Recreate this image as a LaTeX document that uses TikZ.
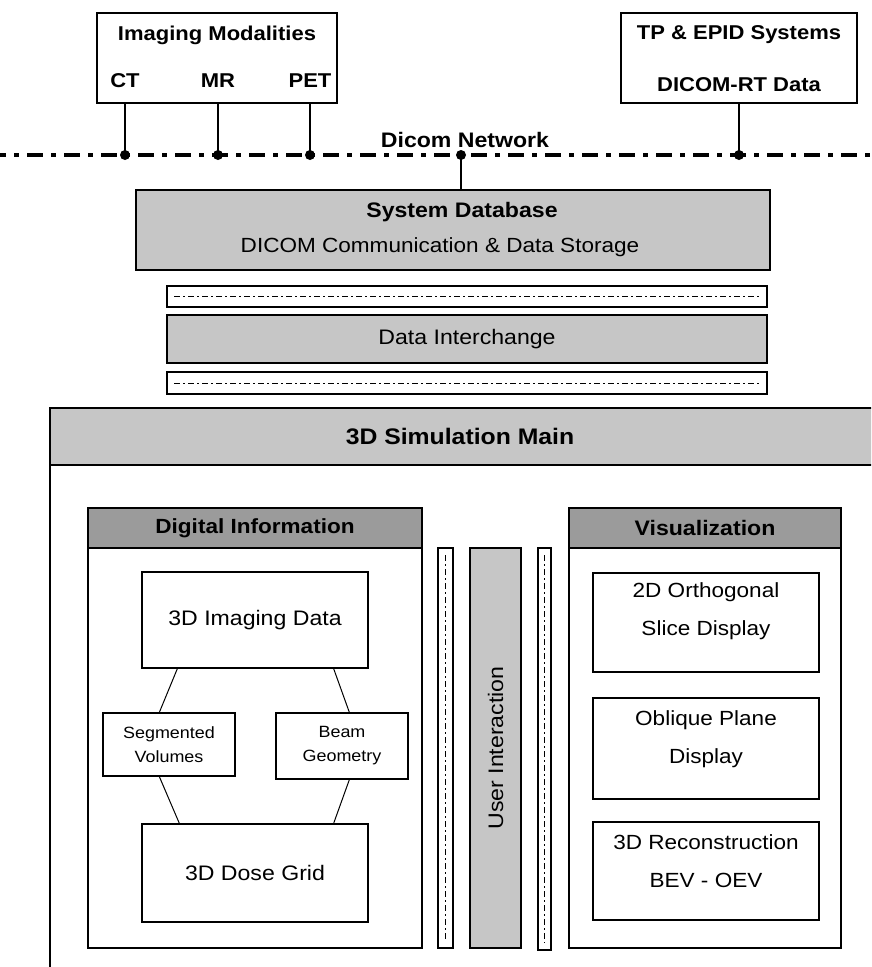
\documentclass[tikz,border=0pt]{standalone}
\usepackage{fontspec}
\setmainfont[FakeStretch=1.1]{Liberation Sans}
\usetikzlibrary{positioning}
\definecolor{lightgr}{RGB}{198,198,198}
\definecolor{darkgr}{RGB}{155,155,155}
\tikzset{
  box/.style={draw, line width=1.3pt, inner sep=0pt, align=center, font=\fontsize{21}{24}\selectfont},
  graybox/.style={box, fill=lightgr},
  headbox/.style={box, fill=darkgr, font=\bfseries\fontsize{20.5}{24}\selectfont},
  bold/.style={inner sep=0pt, font=\bfseries\fontsize{20}{24}\selectfont},
  plain/.style={inner sep=0pt, align=center, font=\fontsize{20.5}{38}\selectfont},
  stem/.style={line width=2.5pt},
  dot/.style={circle, fill, inner sep=0pt, minimum size=10pt},
  netline/.style={line width=3.5pt, dash pattern=on 16pt off 8pt on 5pt off 8pt},
  sepline/.style={line width=1pt, dash pattern=on 6pt off 3pt on 2pt off 3pt},
  link/.style={line width=1pt}
}
\begin{document}
\begin{tikzpicture}[x=1pt,y=-1pt]
\clip (0,0) rectangle (871,967);
\fill[white] (0,0) rectangle (871,967);

% sources on the network
\node[box, minimum width=240pt, minimum height=90pt] (imaging) at (217,58) {};
\node[bold] (imgtitle) at (217,35) {Imaging Modalities};
\node[bold] (ct) at (125,81) {CT};
\node[bold] (mr) at (218,81) {MR};
\node[bold] (pet) at (310,81) {PET};
\node[box, minimum width=236pt, minimum height=90pt] (tpepid) at (739,58) {};
\node[bold] (tptitle) at (739,35) {TP \& EPID Systems};
\node[bold] (rtdata) at (739,85) {DICOM-RT Data};

\coordinate (netL) at (-10,155);
\coordinate (netR) at (880,155);
\coordinate (dbtap) at (461,155);
\draw[netline] (netL) -- (netR);
\node[bold, font=\bfseries\fontsize{21}{24}\selectfont] (netlabel) at (465,140) {Dicom Network};

\draw[stem] (ct |- imaging.south) -- (ct |- netL) node[dot] (dct) {};
\draw[stem] (mr |- imaging.south) -- (mr |- netL) node[dot] (dmr) {};
\draw[stem] (pet |- imaging.south) -- (pet |- netL) node[dot] (dpet) {};
\draw[stem] (tpepid.south) -- (tpepid |- netL) node[dot] (dtp) {};

% database and interchange
\node[graybox, minimum width=634pt, minimum height=80pt] (db) at (453,230) {};
\node[bold, font=\bfseries\fontsize{21}{24}\selectfont] (dbtitle) at (462,212) {System Database};
\node[inner sep=0pt, font=\fontsize{20.5}{24}\selectfont] (dbsub) at (440,247) {DICOM Communication \& Data Storage};
\draw[stem] (dbtap) -- (dbtap |- db.north);
\node[dot] (ddb) at (dbtap) {};

\node[box, minimum width=600pt, minimum height=21pt] (sep1) at (467,296.5) {};
\draw[sepline] ([xshift=8pt]sep1.west) -- ([xshift=-8pt]sep1.east);
\node[graybox, minimum width=600pt, minimum height=48pt] (interchange) at (467,339) {Data Interchange};
\node[box, minimum width=600pt, minimum height=22pt] (sep2) at (467,383) {};
\draw[sepline] ([xshift=8pt]sep2.west) -- ([xshift=-8pt]sep2.east);

% main frame
\draw[line width=1.3pt, fill=lightgr] (50,408) rectangle (890,465);
\draw[line width=1.3pt] (50,465) -- (50,980);
\node[bold, font=\bfseries\fontsize{22.5}{26}\selectfont] (maintitle) at (460,436) {3D Simulation Main};

% digital information
\node[box, minimum width=334pt, minimum height=400pt] (digital) at (255,748) {};
\node[headbox, minimum width=334pt, minimum height=40pt] (dighead) at (255,528) {Digital Information};
\node[box, minimum width=226pt, minimum height=96pt] (img3d) at (255,620) {3D Imaging Data};
\node[box, minimum width=132pt, minimum height=63pt, font=\fontsize{16.3}{24}\selectfont] (segvol) at (169,744.5) {Segmented\\Volumes};
\node[box, minimum width=132pt, minimum height=66pt, font=\fontsize{16.3}{24}\selectfont] (beam) at (342,746) {Beam\\Geometry};
\node[box, minimum width=226pt, minimum height=98pt] (dose) at (255,873) {3D Dose Grid};
\draw[link] ([xshift=36pt]img3d.south west) -- ([xshift=57pt]segvol.north west);
\draw[link] ([xshift=-35pt]img3d.south east) -- ([xshift=74pt]beam.north west);
\draw[link] ([xshift=57pt]segvol.south west) -- ([xshift=38pt]dose.north west);
\draw[link] ([xshift=74pt]beam.south west) -- ([xshift=-35pt]dose.north east);

% user interaction
\node[box, minimum width=15pt, minimum height=400pt] (sepL) at (445.5,748) {};
\draw[sepline] ([yshift=-8pt]sepL.north) -- ([yshift=8pt]sepL.south);
\node[graybox, minimum width=51pt, minimum height=400pt] (user) at (495.5,748) {};
\node[rotate=90, inner sep=0pt, font=\fontsize{21}{24}\selectfont] (usertext) at (user) {User Interaction};
\node[box, minimum width=13pt, minimum height=402pt] (sepR) at (544.5,749) {};
\draw[sepline] ([yshift=-8pt]sepR.north) -- ([yshift=8pt]sepR.south);

% visualization
\node[box, minimum width=272pt, minimum height=400pt] (visual) at (705,748) {};
\node[headbox, minimum width=272pt, minimum height=40pt, font=\bfseries\fontsize{21}{24}\selectfont] (vishead) at (705,528) {Visualization};
\node[box, minimum width=226pt, minimum height=99pt] (ortho) at (706,622.5) {};
\node[plain] (orthotext) at (706,611) {2D Orthogonal\\Slice Display};
\node[box, minimum width=226pt, minimum height=101pt] (oblique) at (706,748.5) {};
\node[plain] (obliquetext) at (706,739) {Oblique Plane\\Display};
\node[box, minimum width=226pt, minimum height=98pt] (recon) at (706,871) {};
\node[plain] (recontext) at (706,861) {3D Reconstruction\\BEV - OEV};

\end{tikzpicture}
\end{document}
